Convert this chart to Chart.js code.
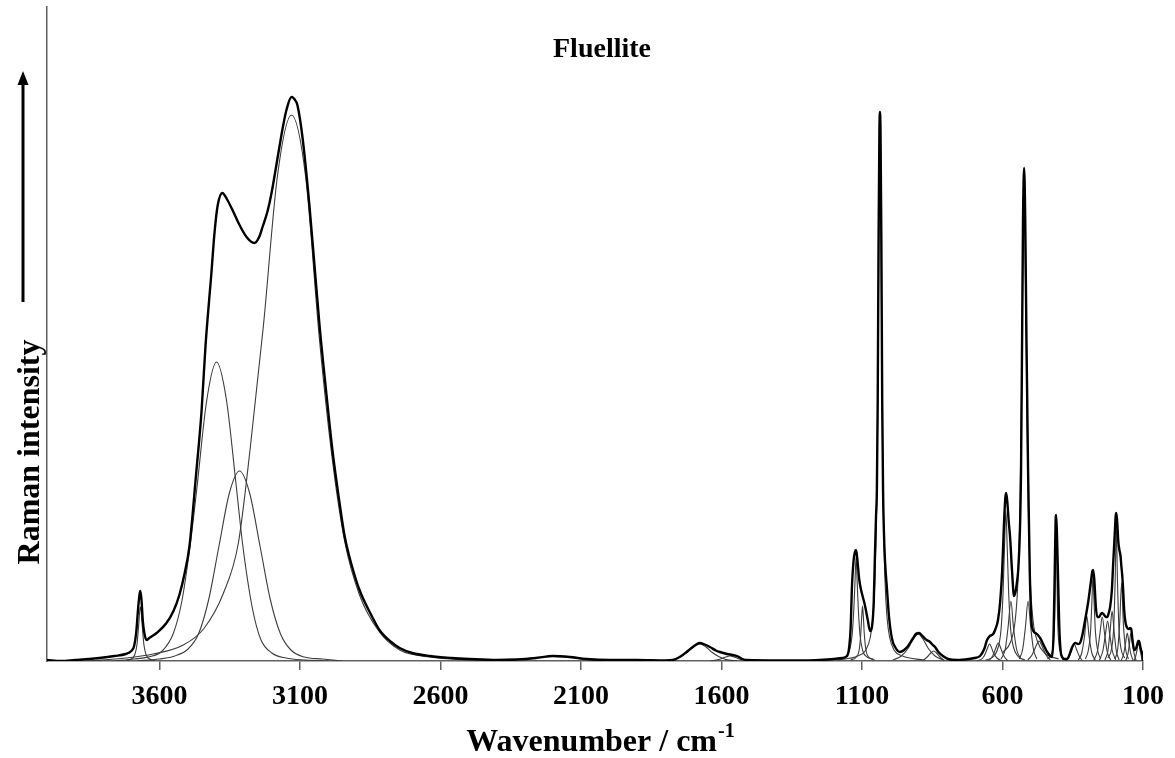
<!DOCTYPE html>
<html><head><meta charset="utf-8">
<script src="https://cdn.jsdelivr.net/npm/chart.js@4.4.1/dist/chart.umd.min.js"></script>
<style>html,body{margin:0;padding:0;background:#fff;} canvas{display:block;}</style>
</head><body>
<canvas id="c" width="1175" height="758"></canvas>
<script>
// ---- tick labels and texts ----
const xTicks = [3600, 3100, 2600, 2100, 1600, 1100, 600, 100];
const titleText = 'Fluellite';
const xTitleMain = 'Wavenumber / cm';
const xTitleSup = '-1';
const yTitleText = 'Raman intensity';

// ---- measured spectrum / fit envelope: [wavenumber, intensity] ----
const envelope = [
[4000,1],[3950,0],[3900,1],[3850,2],[3814,3],[3760,5],[3720,7],[3700,10],[3690,15],[3682,30],[3676,52],[3671,66],[3668,70],[3664,62],[3659,40],[3653,27],[3646,21],[3636,23],[3610,28],[3575,38],[3550,50],[3529,66],[3510,88],[3493,115],[3470,185],[3450,250],[3436,315],[3415,388],[3404,428],[3393,455],[3376,468],[3360,462],[3340,451],[3315,436],[3290,424],[3262,418],[3245,424],[3233,434],[3215,450],[3201,468],[3173,514],[3160,535],[3148,551],[3130,564],[3115,560],[3109,556],[3091,524],[3066,455],[3048,395],[3030,335],[3005,265],[2984,210],[2960,160],[2941,125],[2915,95],[2888,71],[2850,48],[2817,31],[2780,20],[2745,13],[2700,8],[2638,5],[2560,3],[2496,2],[2400,1],[2330,1.5],[2260,3],[2200,5],[2140,4],[2080,2],[2000,1],[1900,1],[1800,0.5],[1773,1],[1755,3],[1738,6],[1720,10],[1702,14],[1690,16.5],[1677,18],[1660,16.5],[1641,14],[1620,10.5],[1606,9],[1580,7],[1560,6],[1545,5],[1525,2],[1510,1],[1400,0.5],[1300,0.5],[1250,1],[1200,2],[1170,3],[1153,5],[1145,15],[1140,35],[1136,72],[1130,100],[1125,109],[1121,111],[1117,103],[1114,94],[1110,82],[1104,72],[1097,64],[1089,55],[1080,42],[1071,30],[1064,35],[1058,60],[1054,105],[1050,145],[1047,171],[1044,260],[1041,420],[1038,530],[1036,549],[1034,530],[1031,420],[1028,260],[1025,171],[1022,130],[1018,100],[1011,72],[1004,45],[993,22],[980,13],[965,9],[950,11],[936,15],[920,22],[908,27],[897,28],[885,25],[870,21],[858,19],[848,16],[840,14],[828,9],[812,5],[794,2],[760,1],[720,2],[700,3],[680,5],[665,12],[655,21],[645,25],[633,27],[625,32],[616,41],[608,60],[601,91],[595,135],[590,163],[587,168],[583,160],[578,140],[573,124],[566,90],[559,65],[553,70],[548,80],[544,91],[538,130],[534,191],[530,330],[527,440],[523,493],[519,440],[515,330],[509,191],[503,90],[495,34],[482,28],[466,23],[452,15],[441,9],[430,5],[423,4],[418,30],[414,90],[411,140],[409,146],[406,125],[402,80],[398,35],[393,10],[388,4],[380,2],[370,2],[362,6],[352,14],[341,18],[330,17],[324,18],[315,27],[306,41],[295,59],[286,78],[280,90],[277,91],[273,80],[268,55],[263,44],[256,44],[250,47],[245,48],[238,46],[232,44],[227,44],[222,48],[217,54],[211,70],[206,98],[200,130],[197,146],[195,148],[192,140],[188,120],[184,111],[180,105],[177,95],[174,86],[170,68],[167,51],[162,38],[156,33],[150,32],[146,33],[142,32],[137,20],[131,11],[126,12],[121,16],[117,20],[114,20],[110,15],[106,10],[103,8],[100,0]
];

// ---- fitted component bands: [wavenumber, intensity] ----
const band3668 = [[3720,0],[3700,2],[3688,6],[3680,16],[3674,35],[3670,50],[3668,54],[3665,50],[3661,35],[3655,16],[3647,6],[3635,2],[3615,0]];
const band3397 = [[3760,0],[3690,2],[3640,4],[3590,10],[3550,28],[3520,60],[3490,117],[3467,172],[3432,260],[3397,299],[3362,262],[3327,176],[3304,117],[3270,54],[3240,22],[3200,8],[3150,3],[3080,1],[3000,0]];
const band3315 = [[3680,0],[3600,2],[3545,5],[3498,12],[3461,27],[3425,61],[3388,115],[3351,168],[3315,190],[3279,168],[3242,115],[3205,61],[3169,27],[3132,11],[3085,4],[3020,2],[2950,0]];
const band3130 = [[3850,0],[3720,3],[3622,7],[3515,16],[3443,32],[3372,68],[3319,118],[3276,215],[3230,335],[3180,485],[3130,546],[3080,485],[3030,320],[2984,200],[2941,120],[2888,66],[2817,29],[2745,11],[2638,4],[2500,1],[2400,0]];
const band2200 = [[2400,0],[2320,1.5],[2260,3.5],[2200,4.5],[2140,3.5],[2080,1.5],[2000,0]];
const band1677 = [[1810,0],[1770,1.5],[1745,4.5],[1720,9],[1700,14],[1677,17],[1655,14],[1635,9],[1610,4.5],[1585,1.5],[1545,0]];
const band1570 = [[1640,0],[1610,1.5],[1590,3.5],[1570,5],[1550,3.5],[1530,1.5],[1500,0]];
const band1121 = [[1180,2],[1160,4],[1145,10],[1135,26],[1129,52],[1125,78],[1121,104],[1117,78],[1113,52],[1107,26],[1097,10],[1082,4],[1060,2]];
const band1098 = [[1140,1],[1120,4],[1110,11],[1104,28],[1101,44],[1098,55],[1095,44],[1092,28],[1086,11],[1076,4],[1055,1]];
const band1036 = [[1190,1],[1115,5],[1086,11],[1071,23],[1061,44],[1054,80],[1048,152],[1045,222],[1042,332],[1039,470],[1036,545],[1033,470],[1030,332],[1027,222],[1024,152],[1018,80],[1011,44],[1001,23],[986,11],[956,5],[880,1]];
const band900 = [[990,1],[960,5],[935,13],[917,22],[900,27],[883,22],[865,13],[840,5],[810,1]];
const band845 = [[885,0],[868,4],[855,8],[845,10],[835,8],[822,4],[805,0]];
const band646 = [[690,0],[670,3],[660,8],[652,14],[646,17],[640,14],[632,8],[620,3],[600,0]];
const band615 = [[650,0],[635,5],[625,12],[615,18],[605,12],[595,5],[580,0]];
const band588 = [[660,1],[630,5],[615,14],[605,32],[598,68],[593,112],[588,150],[583,112],[578,68],[571,32],[561,14],[546,5],[520,1]];
const band570 = [[605,2],[590,12],[580,34],[570,60],[561,34],[550,12],[535,2]];
const band523 = [[600,8],[570,20],[555,40],[545,80],[538,150],[533,250],[528,380],[523,480],[518,380],[513,250],[508,150],[501,80],[491,40],[476,20],[450,8],[400,2]];
const band509 = [[540,2],[528,12],[518,35],[509,60],[500,35],[490,12],[478,2]];
const band470 = [[510,1],[495,6],[482,14],[470,20],[458,14],[445,6],[430,1]];
const band409 = [[440,2],[425,8],[418,20],[414,45],[411,105],[409,142],[407,105],[404,45],[400,20],[393,8],[380,2]];
const band345 = [[375,0],[362,5],[352,12],[345,17],[337,12],[327,5],[315,0]];
const band300 = [[330,1],[318,8],[308,25],[300,45],[292,25],[282,8],[270,1]];
const band278 = [[305,2],[295,10],[287,28],[282,58],[278,85],[274,58],[269,28],[261,10],[250,2]];
const band245 = [[275,1],[262,10],[253,28],[245,44],[237,28],[228,10],[215,1]];
const band226 = [[255,1],[243,10],[234,26],[226,40],[218,26],[209,10],[197,1]];
const band210 = [[235,1],[225,10],[217,30],[210,50],[203,30],[195,10],[185,1]];
const band195 = [[225,3],[212,12],[204,35],[199,82],[195,135],[191,82],[186,35],[178,12],[165,3]];
const band176 = [[200,2],[190,12],[183,38],[176,78],[170,38],[162,12],[152,2]];
const band156 = [[178,0],[168,8],[162,18],[156,28],[150,18],[144,8],[134,0]];
const band143 = [[162,0],[153,8],[148,18],[143,28],[138,18],[132,8],[124,0]];
const band116 = [[132,0],[125,6],[120,13],[116,19],[112,13],[107,6],[102,0]];

const bands = [band3668, band3397, band3315, band3130, band2200, band1677, band1570,
  band1121, band1098, band1036, band900, band845, band646, band615, band588, band570,
  band523, band509, band470, band409, band345, band300, band278, band245, band226,
  band210, band195, band176, band156, band143, band116];

const toXY = arr => arr.map(p => ({x: p[0], y: p[1]}));

const datasets = [{
  data: toXY(envelope), borderColor: '#000', borderWidth: 2.4, pointRadius: 0,
  cubicInterpolationMode: 'monotone', fill: false, order: 0
}].concat(bands.map(b => ({
  data: toXY(b), borderColor: '#3c3c3c', borderWidth: 1.1, pointRadius: 0,
  cubicInterpolationMode: 'monotone', fill: false, order: 1
})));

const FONT = '"Liberation Serif", "Times New Roman", serif';

const textPlugin = {
  id: 'texts',
  afterDraw(chart) {
    const ctx = chart.ctx;
    ctx.save();
    ctx.fillStyle = '#000';
    // title
    ctx.font = 'bold 28px ' + FONT;
    ctx.textAlign = 'center';
    ctx.textBaseline = 'alphabetic';
    ctx.fillText(titleText, 602, 57);
    // x title with superscript
    ctx.font = 'bold 32px ' + FONT;
    const w1 = ctx.measureText(xTitleMain).width;
    ctx.font = 'bold 20px ' + FONT;
    const w2 = ctx.measureText(xTitleSup).width;
    const sx = 600 - (w1 + w2) / 2;
    ctx.textAlign = 'left';
    ctx.font = 'bold 32px ' + FONT;
    ctx.fillText(xTitleMain, sx, 751);
    ctx.font = 'bold 20px ' + FONT;
    ctx.fillText(xTitleSup, sx + w1 + 1, 737);
    // y title
    ctx.save();
    ctx.translate(39, 452);
    ctx.rotate(-Math.PI / 2);
    ctx.textAlign = 'center';
    ctx.font = 'bold 32px ' + FONT;
    ctx.fillText(yTitleText, 0, 0);
    ctx.restore();
    // arrow
    ctx.strokeStyle = '#000';
    ctx.lineWidth = 3;
    ctx.beginPath();
    ctx.moveTo(23, 302);
    ctx.lineTo(23, 82);
    ctx.stroke();
    ctx.beginPath();
    ctx.moveTo(23, 71);
    ctx.lineTo(17.5, 85);
    ctx.lineTo(28.5, 85);
    ctx.closePath();
    ctx.fill();
    ctx.restore();
  }
};

new Chart(document.getElementById('c'), {
  type: 'line',
  data: { datasets },
  options: {
    responsive: false,
    animation: false,
    devicePixelRatio: 1,
    layout: { padding: { top: 7, right: 32, left: 0, bottom: 0 } },
    plugins: { legend: { display: false }, tooltip: { enabled: false }, title: { display: false } },
    scales: {
      x: {
        type: 'linear', reverse: true, min: 100, max: 4000,
        afterBuildTicks: axis => { axis.ticks = xTicks.map(v => ({ value: v })); },
        afterFit: s => { s.height = 97; },
        ticks: {
          callback: v => String(v), autoSkip: false, maxRotation: 0,
          color: '#000', padding: 10,
          font: { family: FONT, size: 28, weight: 'bold' }
        },
        grid: { display: true, drawOnChartArea: false, drawTicks: true, tickLength: 9, color: '#606060', lineWidth: 1.5 },
        border: { display: true, color: '#606060', width: 1.5 }
      },
      y: {
        type: 'linear', min: 0, max: 654,
        afterFit: s => { s.width = 47; },
        ticks: { display: false },
        grid: { display: true, drawOnChartArea: false, drawTicks: false, tickLength: 0 },
        border: { display: true, color: '#606060', width: 1.5 }
      }
    }
  },
  plugins: [textPlugin]
});
</script>
</body></html>
